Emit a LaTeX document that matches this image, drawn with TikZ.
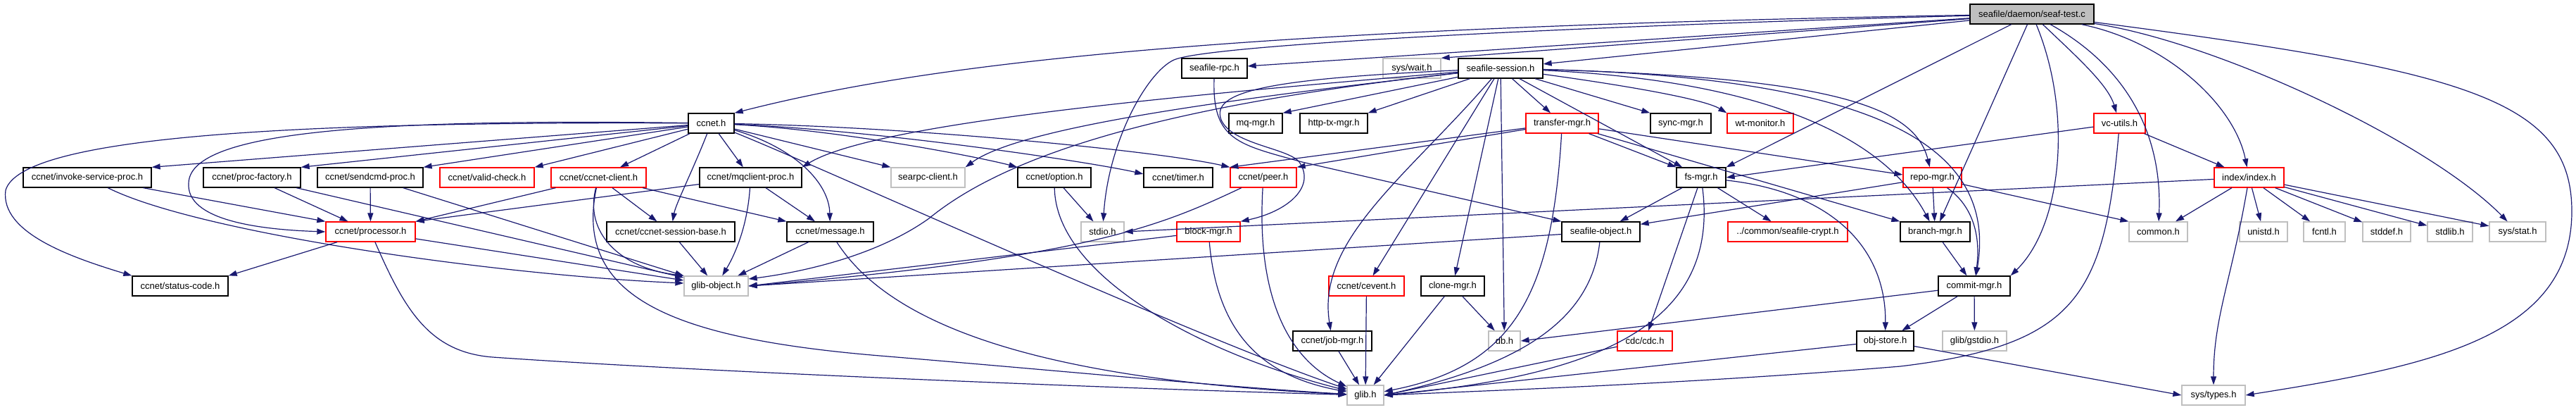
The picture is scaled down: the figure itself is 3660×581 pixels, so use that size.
\documentclass[tikz,border=0pt]{standalone}
\usepackage{fontspec}
\setmainfont{Liberation Sans}
\usetikzlibrary{arrows.meta}
\definecolor{edgec}{RGB}{25,25,112}
\definecolor{grayb}{RGB}{191,191,191}
\tikzset{
  nb/.style={draw=black, line width=1.3pt, fill=white, minimum height=28pt, inner sep=0pt, font=\fontsize{13}{15}\selectfont, text=black},
  ng/.style={nb, draw=grayb},
  nr/.style={nb, draw=red},
  nroot/.style={nb, fill=grayb},
  dep/.style={draw=edgec, line width=1.2pt, -{Triangle[length=12pt,width=8pt]}},
}
\begin{document}
\begin{tikzpicture}[x=1pt,y=-1pt]
\useasboundingbox (0,0) rectangle (3660,581);
% row 0
\node[nroot, minimum width=176pt] (T) at (2887,20) {seafile/daemon/seaf-test.c};
% row 1
\node[nb, minimum width=93pt] (rpc) at (1725.5,97) {seafile-rpc.h};
\node[ng, minimum width=82pt] (syswait) at (2006,97) {sys/wait.h};
\node[nb, minimum width=120pt] (session) at (2132,97) {seafile-session.h};
% row 2
\node[nb, minimum width=65pt] (ccnet) at (1010.5,175) {ccnet.h};
\node[nb, minimum width=76pt] (mqmgr) at (1784,175) {mq-mgr.h};
\node[nb, minimum width=96pt] (httptx) at (1895,175) {http-tx-mgr.h};
\node[nr, minimum width=103pt] (transfer) at (2219.5,175) {transfer-mgr.h};
\node[nb, minimum width=86pt] (syncmgr) at (2388,175) {sync-mgr.h};
\node[nr, minimum width=94pt] (wtmon) at (2501,175) {wt-monitor.h};
\node[nr, minimum width=73pt] (vcutils) at (3011.5,175) {vc-utils.h};
% row 3
\node[nb, minimum width=182pt] (invoke) at (124,252) {ccnet/invoke-service-proc.h};
\node[nb, minimum width=138pt] (procfac) at (358,252) {ccnet/proc-factory.h};
\node[nb, minimum width=150pt] (sendcmd) at (526,252) {ccnet/sendcmd-proc.h};
\node[nr, minimum width=134pt] (valid) at (692,252) {ccnet/valid-check.h};
\node[nr, minimum width=135pt] (client) at (850.5,252) {ccnet/ccnet-client.h};
\node[nb, minimum width=145pt] (mqclient) at (1066.5,252) {ccnet/mqclient-proc.h};
\node[ng, minimum width=105pt] (searpc) at (1318.5,252) {searpc-client.h};
\node[nb, minimum width=104pt] (option) at (1498,252) {ccnet/option.h};
\node[nb, minimum width=98pt] (timer) at (1674,252) {ccnet/timer.h};
\node[nr, minimum width=94pt] (peer) at (1795,252) {ccnet/peer.h};
\node[nb, minimum width=70pt] (fsmgr) at (2417,252) {fs-mgr.h};
\node[nr, minimum width=83pt] (repo) at (2745.5,252) {repo-mgr.h};
\node[nr, minimum width=99pt] (index) at (3195.5,252) {index/index.h};
% row 4
\node[nr, minimum width=127pt] (processor) at (526.5,329) {ccnet/processor.h};
\node[nb, minimum width=182pt] (sessbase) at (953,329) {ccnet/ccnet-session-base.h};
\node[nb, minimum width=123pt] (message) at (1179.5,329) {ccnet/message.h};
\node[ng, minimum width=61pt] (stdio) at (1566.5,329) {stdio.h};
\node[nr, minimum width=90pt] (block) at (1717,329) {block-mgr.h};
\node[nb, minimum width=111pt] (seafobj) at (2274.5,329) {seafile-object.h};
\node[nr, minimum width=170pt] (crypt) at (2540,329) {../common/seafile-crypt.h};
\node[nb, minimum width=99pt] (branch) at (2749.5,329) {branch-mgr.h};
\node[ng, minimum width=83pt] (common) at (3066.5,329) {common.h};
\node[ng, minimum width=68pt] (unistd) at (3216,329) {unistd.h};
\node[ng, minimum width=59pt] (fcntl) at (3302.5,329) {fcntl.h};
\node[ng, minimum width=68pt] (stddef) at (3391,329) {stddef.h};
\node[ng, minimum width=64pt] (stdlib) at (3481,329) {stdlib.h};
\node[ng, minimum width=80pt] (sysstat) at (3577,329) {sys/stat.h};
% row 5
\node[nb, minimum width=136pt] (status) at (256,406) {ccnet/status-code.h};
\node[ng, minimum width=91pt] (globj) at (1017.5,406) {glib-object.h};
\node[nr, minimum width=107pt] (cevent) at (1941.5,406) {ccnet/cevent.h};
\node[nb, minimum width=90pt] (clone) at (2064,406) {clone-mgr.h};
\node[nb, minimum width=102pt] (commit) at (2805,406) {commit-mgr.h};
% row 6
\node[nb, minimum width=112pt] (jobmgr) at (1893,484) {ccnet/job-mgr.h};
\node[ng, minimum width=45pt] (db) at (2137.5,484) {db.h};
\node[nr, minimum width=78pt] (cdc) at (2337,484) {cdc/cdc.h};
\node[nb, minimum width=81pt] (objstore) at (2678.5,484) {obj-store.h};
\node[ng, minimum width=91pt] (gstdio) at (2805.5,484) {glib/gstdio.h};
% row 7
\node[ng, minimum width=52pt] (glib) at (1940,561) {glib.h};
\node[ng, minimum width=90pt] (systypes) at (3145,561) {sys/types.h};

% ---- edges from seaf-test.c
\draw[dep] (T) .. controls (1700,40) and (1300,95) .. (ccnet.north east);
\draw[dep] (T) -- (rpc);
\draw[dep] (T) -- (syswait.north east);
\draw[dep] (T) -- (session);
\draw[dep] (T) .. controls (2300,35) and (1720,62) .. (1668,85) .. controls (1630,102) and (1575,200) .. (stdio);
\draw[dep] (T) -- (fsmgr.north east);
\draw[dep] (T) .. controls (2950,80) and (2995,120) .. (vcutils);
\draw[dep] (T) .. controls (3080,60) and (3175,150) .. (index);
\draw[dep] (T) -- (branch);
\draw[dep] (T) .. controls (2945,160) and (2930,320) .. (commit.north east);
\draw[dep] (T) .. controls (3030,100) and (3072,200) .. (common);
\draw[dep] (T) .. controls (3150,60) and (3450,200) .. (sysstat);
\draw[dep] (T) .. controls (3500,100) and (3654,140) .. (3654,300) .. controls (3654,480) and (3450,520) .. (systypes.east);
% ---- seafile-session.h
\draw[dep] (session) .. controls (1750,130) and (1250,170) .. (mqclient.north east);
\draw[dep] (session) .. controls (1750,140) and (1450,180) .. (searpc.north east);
\draw[dep] (session) .. controls (1650,150) and (1430,220) .. (1320,310) .. controls (1250,360) and (1150,385) .. ([yshift=10pt]globj.east);
\draw[dep] (session) .. controls (1800,112) and (1720,130) .. (1735,170) .. controls (1750,205) and (1830,210) .. (1846,230) .. controls (1870,265) and (1830,300) .. (block.north east);
\draw[dep] (session) -- (mqmgr.north east);
\draw[dep] (session) -- (httptx.north east);
\draw[dep] (session) .. controls (2000,250) and (1870,340) .. (jobmgr);
\draw[dep] (session) -- (cevent);
\draw[dep] (session) -- (clone);
\draw[dep] (session) -- (db);
\draw[dep] (session) -- (transfer);
\draw[dep] (session) -- (fsmgr);
\draw[dep] (session) -- (syncmgr.north west);
\draw[dep] (session) .. controls (2300,120) and (2420,140) .. (wtmon.north west);
\draw[dep] (session) .. controls (2600,110) and (2720,150) .. (repo);
\draw[dep] (session) .. controls (2520,115) and (2680,200) .. (branch);
\draw[dep] (session) .. controls (2650,110) and (2840,200) .. (commit);
% ---- seafile-rpc.h
\draw[dep] (rpc) .. controls (1722,200) and (1760,205) .. (1850,230) -- (seafobj.north west);
% ---- ccnet.h
\draw[dep] (ccnet) -- (invoke.north east);
\draw[dep] (ccnet) -- (procfac.north east);
\draw[dep] (ccnet) -- (sendcmd.north east);
\draw[dep] (ccnet) -- (valid.north east);
\draw[dep] (ccnet) -- (client);
\draw[dep] (ccnet) -- (mqclient);
\draw[dep] (ccnet) .. controls (985,240) and (960,290) .. (sessbase);
\draw[dep] (ccnet) .. controls (1130,210) and (1178,260) .. (message);
\draw[dep] (ccnet) .. controls (500,168) and (270,190) .. (268,260) .. controls (265,305) and (340,325) .. (processor.west);
\draw[dep] (ccnet) .. controls (400,172) and (30,195) .. (8,270) .. controls (0,330) and (100,365) .. (status.north west);
\draw[dep] (ccnet) .. controls (1300,180) and (1650,215) .. (peer.north west);
\draw[dep] (ccnet) .. controls (1200,185) and (1400,225) .. (option.north west);
\draw[dep] (ccnet) .. controls (1250,185) and (1550,230) .. ([yshift=5pt]timer.west);
\draw[dep] (ccnet) -- (searpc.north west);
\draw[dep] (ccnet) .. controls (1150,230) and (1700,480) .. (glib);
% ---- ccnet proc headers
\draw[dep] (invoke) -- (processor.north west);
\draw[dep] (invoke) .. controls (280,330) and (700,390) .. ([yshift=4pt]globj.west);
\draw[dep] (procfac) -- (processor);
\draw[dep] (procfac) -- ([yshift=12pt]globj.west);
\draw[dep] (sendcmd) -- (processor);
\draw[dep] (sendcmd) -- (globj.north west);
\draw[dep] (client) -- (processor.north east);
\draw[dep] (client) -- (sessbase);
\draw[dep] (client) -- (message.north west);
\draw[dep] (client) .. controls (830,330) and (880,380) .. (globj.north west);
\draw[dep] (client) .. controls (815,420) and (950,480) .. (1250,505) .. controls (1550,530) and (1750,550) .. (glib);
\draw[dep] (mqclient) -- (processor.north east);
\draw[dep] (mqclient) .. controls (1062,320) and (1045,360) .. (globj);
\draw[dep] (mqclient) -- (message);
\draw[dep] (processor) -- (status.north east);
\draw[dep] (processor) -- ([yshift=8pt]globj.west);
\draw[dep] (processor) .. controls (575,440) and (610,500) .. (700,507) .. controls (1000,528) and (1600,552) .. (glib);
\draw[dep] (sessbase) -- (globj);
\draw[dep] (message) -- (globj);
\draw[dep] (message) .. controls (1270,470) and (1500,540) .. (glib);
\draw[dep] (option) -- (stdio);
\draw[dep] (option) .. controls (1500,390) and (1700,500) .. (glib);
\draw[dep] (peer) .. controls (1650,320) and (1550,365) .. (globj.east);
\draw[dep] (peer) .. controls (1785,420) and (1830,510) .. (glib);
% ---- transfer-mgr.h
\draw[dep] (transfer) -- (peer.north west);
\draw[dep] (transfer) -- (peer.north east);
\draw[dep] (transfer) -- (fsmgr.north west);
\draw[dep] (transfer) .. controls (2205,420) and (2150,520) .. (glib);
\draw[dep] (transfer) -- ([yshift=4pt]repo.west);
\draw[dep] (transfer) -- (branch.north west);
% ---- managers
\draw[dep] (block) -- (globj.east);
\draw[dep] (block) .. controls (1730,480) and (1800,535) .. (glib);
\draw[dep] (seafobj) -- (globj.east);
\draw[dep] (seafobj) .. controls (2260,460) and (2150,520) .. (glib.east);
\draw[dep] (jobmgr) -- (glib);
\draw[dep] (cevent) -- (glib);
\draw[dep] (clone) -- (glib);
\draw[dep] (clone) -- (db);
\draw[dep] (fsmgr) -- (seafobj);
\draw[dep] (fsmgr) .. controls (2445,470) and (2250,535) .. (glib.east);
\draw[dep] (fsmgr) -- (cdc);
\draw[dep] (fsmgr) -- (crypt);
\draw[dep] (fsmgr) .. controls (2600,272) and (2680,350) .. (objstore);
\draw[dep] (cdc) -- (glib.east);
\draw[dep] (repo) -- ([yshift=-4pt]seafobj.north east);
\draw[dep] (repo) -- (branch);
\draw[dep] (repo) .. controls (2800,290) and (2815,330) .. (commit);
\draw[dep] (repo) -- (common.north west);
\draw[dep] (branch) -- (commit);
\draw[dep] (commit) -- (db.east);
\draw[dep] (commit) -- (objstore);
\draw[dep] (commit) -- (gstdio);
\draw[dep] (objstore) -- (glib.east);
\draw[dep] (objstore) -- (systypes.west);
% ---- vc-utils.h / index.h
\draw[dep] (vcutils) -- (index);
\draw[dep] (vcutils) -- (fsmgr.east);
\draw[dep] (vcutils) .. controls (2990,420) and (2950,490) .. (2700,520) .. controls (2400,545) and (2100,555) .. (glib.east);
\draw[dep] (index) -- (stdio.east);
\draw[dep] (index) -- (common);
\draw[dep] (index) -- (unistd);
\draw[dep] (index) -- (fcntl);
\draw[dep] (index) -- (stddef);
\draw[dep] (index) -- (stdlib);
\draw[dep] (index) -- (sysstat);
\draw[dep] (index) .. controls (3170,400) and (3145,450) .. (systypes);
\end{tikzpicture}
\end{document}
